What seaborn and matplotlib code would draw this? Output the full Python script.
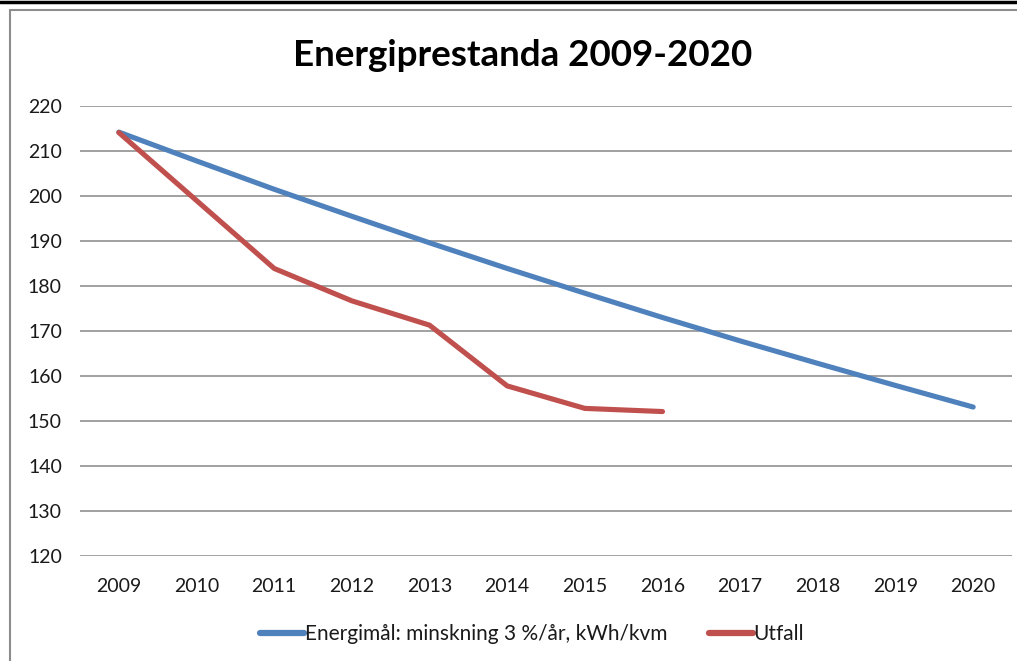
import matplotlib
matplotlib.use("Agg")
import matplotlib.pyplot as plt
import matplotlib.lines as mlines
import pandas as pd
import seaborn as sns

years = list(range(2009, 2021))
goal = [214.2, 207.8, 201.5, 195.5, 189.6, 183.9, 178.4, 173.0, 167.8, 162.8, 157.9, 153.1]
outcome_years = list(range(2009, 2017))
outcome = [214.1, 199.0, 183.9, 176.7, 171.3, 157.8, 152.8, 152.1]

goal_label = "Energimål: minskning 3 %/år, kWh/kvm"
outcome_label = "Utfall"
title = "Energiprestanda 2009-2020"

blue = "#4F81BD"
red = "#C0504D"

df = pd.concat([
    pd.DataFrame({"year": years, "value": goal, "serie": goal_label}),
    pd.DataFrame({"year": outcome_years, "value": outcome, "serie": outcome_label}),
])

sns.set_theme(style="white")
plt.rcParams["font.family"] = ["Lato", "DejaVu Sans"]

W, H = 1017, 661
fig = plt.figure(figsize=(W / 100, H / 100), dpi=100)
ax = fig.add_axes([80 / W, 1 - 556 / H, (1012 - 80) / W, (556 - 106) / H])

sns.lineplot(
    data=df, x="year", y="value", hue="serie",
    palette={goal_label: blue, outcome_label: red},
    linewidth=3.7, ax=ax, legend=False, solid_capstyle="round",
    solid_joinstyle="round",
)

ax.set_xlim(2008.5, 2020.5)
ax.set_ylim(120, 220)
ax.set_xticks(years)
ax.set_xticklabels([str(y) for y in years])
ax.set_yticks(range(120, 221, 10))
ax.yaxis.grid(True, color="#9A9A9A", linewidth=1.3)
ax.xaxis.grid(False)
for s in ax.spines.values():
    s.set_visible(False)
ax.tick_params(axis="x", length=0, pad=16, labelsize=14, labelcolor="#1a1a1a")
ax.tick_params(axis="y", length=0, pad=13, labelsize=14, labelcolor="#1a1a1a")
ax.set_xlabel("")
ax.set_ylabel("")

fig.text(523 / W, 1 - 55 / H, title, ha="center", va="center",
         fontsize=26.5, fontweight="bold", color="black")

handles = [
    mlines.Line2D([], [], color=blue, linewidth=4.5),
    mlines.Line2D([], [], color=red, linewidth=4.5),
]
fig.legend(handles, [goal_label, outcome_label], loc="center",
           bbox_to_anchor=(532 / W, 1 - 634 / H), ncol=2, frameon=False,
           fontsize=15, handlelength=2.1, handletextpad=0.05,
           columnspacing=2.0, labelcolor="#1a1a1a")

# Excel-like frame: black rule on top, grey chart border
fig.add_artist(mlines.Line2D([0, 1], [1 - 2 / H, 1 - 2 / H], color="black",
                             linewidth=2.5, transform=fig.transFigure))
fig.add_artist(mlines.Line2D([10 / W, 1], [1 - 10 / H, 1 - 10 / H],
                             color="#8C8C8C", linewidth=1.5,
                             transform=fig.transFigure))
fig.add_artist(mlines.Line2D([10 / W, 10 / W], [0, 1 - 10 / H],
                             color="#8C8C8C", linewidth=1.5,
                             transform=fig.transFigure))

fig.savefig("out.png", dpi=100)
